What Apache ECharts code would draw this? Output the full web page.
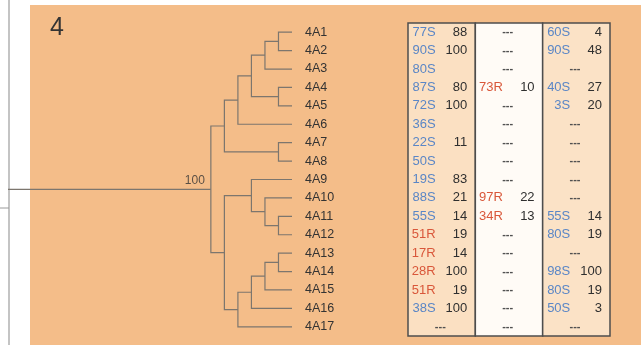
<!DOCTYPE html>
<html>
<head>
<meta charset="utf-8">
<script src="https://cdn.jsdelivr.net/npm/echarts@6/dist/echarts.min.js"></script>
<style>
  html, body { margin: 0; padding: 0; background: #fff; }
  #chart { width: 641px; height: 345px; }
</style>
</head>
<body>
<div id="chart"></div>
<script>
const panelTitle = "4";
const leaves = ["4A1", "4A2", "4A3", "4A4", "4A5", "4A6", "4A7", "4A8", "4A9",
  "4A10", "4A11", "4A12", "4A13", "4A14", "4A15", "4A16", "4A17"];

// [left, right, height]: strings are leaves, numbers point to earlier merges
const merges = [
  ["4A1", "4A2", 1],
  [0, "4A3", 2],
  ["4A4", "4A5", 1],
  [1, 2, 3],
  [3, "4A6", 4],
  ["4A7", "4A8", 1],
  [4, 5, 5],
  ["4A11", "4A12", 1],
  ["4A10", 7, 2],
  ["4A9", 8, 3],
  ["4A13", "4A14", 1],
  [10, "4A15", 2],
  [11, "4A16", 3],
  [12, "4A17", 4],
  [9, 13, 5],
  [6, 14, 6]
];
const rootTip = 21;
const rootSupport = "100";

const col1Code = ["77S", "90S", "80S", "87S", "72S", "36S", "22S", "50S", "19S",
  "88S", "55S", "51R", "17R", "28R", "51R", "38S", "---"];
const col1Value = [88, 100, null, 80, 100, null, 11, null, 83, 21, 14, 19, 14, 100, 19, 100, null];
const col2Code = ["---", "---", "---", "73R", "---", "---", "---", "---", "---",
  "97R", "34R", "---", "---", "---", "---", "---", "---"];
const col2Value = [null, null, null, 10, null, null, null, null, null, 22, 13, null, null, null, null, null, null];
const col3Code = ["60S", "90S", "---", "40S", "3S", "---", "---", "---", "---",
  "---", "55S", "80S", "---", "98S", "80S", "50S", "---"];
const col3Value = [4, 48, null, 27, 20, null, null, null, null, null, 14, 19, null, 100, 19, 3, null];

const columnFills = ["#fbe0c2", "#fffbf6", "#fbe2c6"];

// tree layout
const nodes = [];
function nodeOf(ref) {
  if (typeof ref === "string") return { x: 0, y: leaves.indexOf(ref) };
  return nodes[ref];
}
const treeLines = [];
merges.forEach(([a, b, h]) => {
  const na = nodeOf(a), nb = nodeOf(b);
  treeLines.push({ coords: [[na.x, na.y], [h, na.y], [h, nb.y], [nb.x, nb.y]] });
  nodes.push({ x: h, y: (na.y + nb.y) / 2 });
});
const root = nodes[nodes.length - 1];
treeLines.push({ coords: [[root.x, root.y], [rootTip, root.y]] });

// table cells
const cells = [];
[[col1Code, col1Value], [col2Code, col2Value], [col3Code, col3Value]].forEach(([codes, vals], c) => {
  codes.forEach((code, r) => {
    if (code === "---") {
      cells.push({ value: [c + 0.48, r], text: "---", align: "center", color: "#505050", size: 11, weight: "bold" });
    } else {
      const color = code.endsWith("R") ? "#d9573a" : "#5a86c6";
      cells.push({ value: [c + 0.41, r], text: code, align: "right", color: color, size: 13, weight: "normal" });
    }
    if (vals[r] != null) {
      cells.push({ value: [c + 0.88, r], text: String(vals[r]), align: "right", color: "#2f2f2f", size: 13, weight: "normal" });
    }
  });
});

const chart = echarts.init(document.getElementById("chart"));
const yMin = -0.5, yMax = leaves.length - 0.5;

chart.setOption({
  backgroundColor: "#ffffff",
  animation: false,
  title: {
    text: panelTitle, left: 45, top: 11,
    textStyle: { fontSize: 25, fontWeight: "normal", color: "#333", fontFamily: "Liberation Sans" }
  },
  graphic: [
    { type: "rect", z: -10, shape: { x: 30, y: 5, width: 611, height: 340 }, style: { fill: "#f4bd89" } },
    { type: "line", z: -5, shape: { x1: 9, y1: 0, x2: 9, y2: 345 }, style: { stroke: "#c4c4c4", lineWidth: 2 } },
    { type: "line", z: -5, shape: { x1: 0, y1: 208, x2: 9, y2: 208 }, style: { stroke: "#9a9a9a", lineWidth: 1 } }
  ],
  grid: [
    { left: 8, right: 349, top: 23, height: 313 },
    { left: 408, right: 31, top: 23, height: 313 }
  ],
  xAxis: [
    { gridIndex: 0, type: "value", min: 0, max: rootTip, inverse: true, show: false },
    { gridIndex: 1, type: "value", min: 0, max: 3, show: false }
  ],
  yAxis: [
    { gridIndex: 0, type: "value", min: yMin, max: yMax, inverse: true, show: false },
    {
      gridIndex: 0, type: "category", data: leaves, inverse: true, position: "right",
      axisLine: { show: false }, axisTick: { show: false }, splitLine: { show: false },
      axisLabel: { margin: 13, color: "#333", fontSize: 12.5, fontFamily: "Liberation Sans", interval: 0 }
    },
    { gridIndex: 1, type: "value", min: yMin, max: yMax, inverse: true, show: false }
  ],
  series: [
    {
      type: "lines", coordinateSystem: "cartesian2d", xAxisIndex: 0, yAxisIndex: 0,
      polyline: true, silent: true,
      lineStyle: { color: "#7c766e", width: 1.2, opacity: 1 },
      data: treeLines
    },
    {
      type: "scatter", xAxisIndex: 0, yAxisIndex: 0, symbolSize: 0,
      data: [[root.x, root.y]],
      label: {
        show: true, formatter: rootSupport, position: "left", distance: 6, offset: [0, -9],
        color: "#333", fontSize: 12, fontFamily: "Liberation Sans"
      }
    },
    {
      type: "custom", xAxisIndex: 1, yAxisIndex: 2,
      data: columnFills.map((f, i) => [i]),
      renderItem: (params, api) => {
        const c = api.value(0);
        const p0 = api.coord([c, yMin]);
        const p1 = api.coord([c + 1, yMax]);
        return {
          type: "rect",
          shape: { x: p0[0], y: p0[1], width: p1[0] - p0[0], height: p1[1] - p0[1] },
          style: { fill: columnFills[params.dataIndex], stroke: "#4d4d4d", lineWidth: 1.5 }
        };
      }
    },
    {
      type: "custom", xAxisIndex: 1, yAxisIndex: 2, z: 5,
      data: cells.map(c => c.value),
      renderItem: (params, api) => {
        const d = cells[params.dataIndex];
        const p = api.coord([api.value(0), api.value(1)]);
        return {
          type: "text", x: p[0], y: p[1],
          style: {
            text: d.text, align: d.align, verticalAlign: "middle", fill: d.color,
            font: d.weight + " " + d.size + "px 'Liberation Sans'"
          }
        };
      }
    }
  ]
});
</script>
</body>
</html>
